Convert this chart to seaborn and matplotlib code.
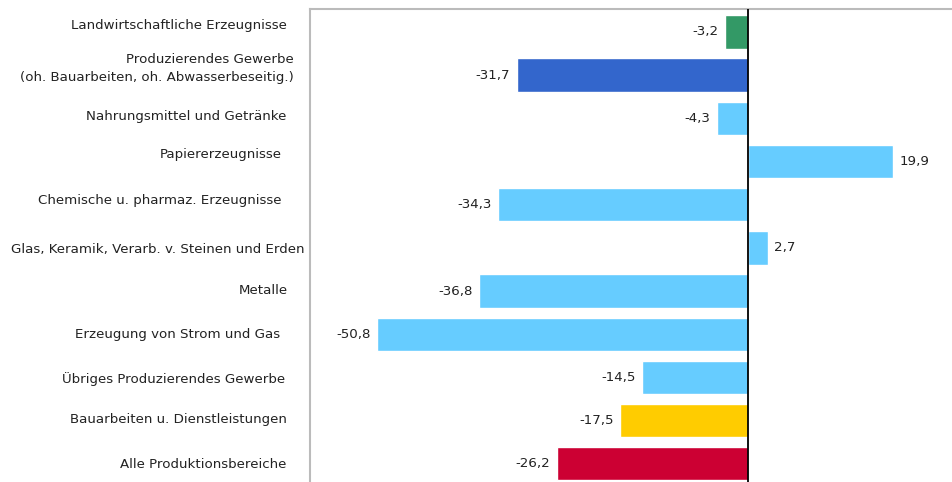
import matplotlib
matplotlib.use("Agg")
import matplotlib.pyplot as plt
import matplotlib.transforms as mtransforms
import seaborn as sns
import pandas as pd

categories = [
    "Landwirtschaftliche Erzeugnisse",
    "Produzierendes Gewerbe\n(oh. Bauarbeiten, oh. Abwasserbeseitig.)",
    "Nahrungsmittel und Getränke",
    "Papiererzeugnisse",
    "Chemische u. pharmaz. Erzeugnisse",
    "Glas, Keramik, Verarb. v. Steinen und Erden",
    "Metalle",
    "Erzeugung von Strom und Gas",
    "Übriges Produzierendes Gewerbe",
    "Bauarbeiten u. Dienstleistungen",
    "Alle Produktionsbereiche",
]
values = [-3.2, -31.7, -4.3, 19.9, -34.3, 2.7, -36.8, -50.8, -14.5, -17.5, -26.2]
colors = ["#339966", "#3366CC", "#66CCFF", "#66CCFF", "#66CCFF", "#66CCFF",
          "#66CCFF", "#66CCFF", "#66CCFF", "#FFCC00", "#CC0033"]

# small per-label nudges (pixels) to mimic the original label placement
label_dx = [-1, 6, -1, -6, -6, 17, 0, -8, -3, -1, -1]
label_dy = [8, 11, 3, 8.5, 6, 0, 2, 1, 0, 3, 1]

df = pd.DataFrame({"cat": categories, "val": values})

sns.set_style("white")
plt.rcParams["font.family"] = ["DejaVu Sans"]

fig = plt.figure(figsize=(9.53, 4.82), dpi=100)
ax = fig.add_axes([310 / 953, 0.0, 1 - 310 / 953, 1 - 9 / 482])

sns.barplot(data=df, x="val", y="cat", hue="cat", palette=colors, orient="h",
            width=0.77, legend=False, ax=ax, saturation=1)

ax.set_xlim(-60.0, 28.1)
ax.set_ylim(10.42, -0.53)
ax.axvline(0, color="black", lw=1.3, zorder=5)

for i, v in enumerate(values):
    txt = f"{v:.1f}".replace(".", ",")
    if v < 0:
        ax.annotate(txt, (v, i), xytext=(-4.5, 0), textcoords="offset points",
                    ha="right", va="center", fontsize=9.6, color="#222222")
    else:
        ax.annotate(txt, (v, i), xytext=(4.5, 0), textcoords="offset points",
                    ha="left", va="center", fontsize=9.6, color="#222222")

ax.set_xticks([])
ax.set_xlabel("")
ax.set_ylabel("")
ax.tick_params(axis="y", length=0, pad=16, labelsize=9.6, labelcolor="#222222")
for k, lab in enumerate(ax.get_yticklabels()):
    lab.set_multialignment("right")
    if "\n" in lab.get_text():
        lab.set_linespacing(1.5)
    lab.set_transform(lab.get_transform() + mtransforms.ScaledTranslation(
        label_dx[k] / 100, label_dy[k] / 100, fig.dpi_scale_trans))

for s in ["right", "bottom"]:
    ax.spines[s].set_visible(False)
for s in ["top", "left"]:
    ax.spines[s].set_color("#bbbbbb")
    ax.spines[s].set_linewidth(1.5)

fig.savefig("out.png", dpi=100)
